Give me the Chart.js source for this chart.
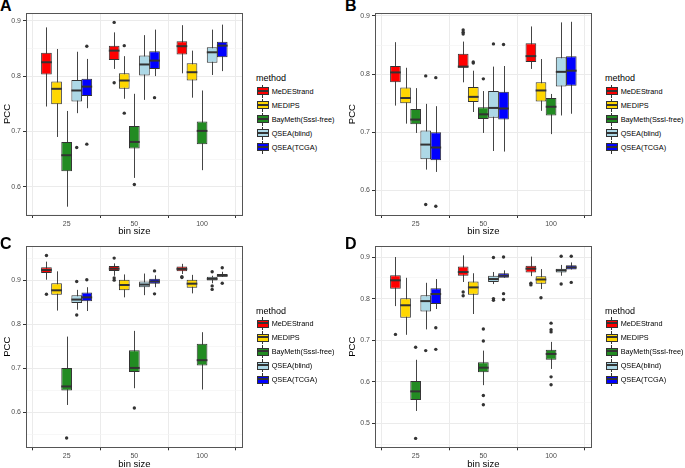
<!DOCTYPE html>
<html>
<head>
<meta charset="utf-8">
<script src="https://cdn.jsdelivr.net/npm/chart.js@4.4.0/dist/chart.umd.min.js"></script>
<style>
  body { margin: 0; background: #fff; width: 685px; height: 468px; position: relative; overflow: hidden;
         font-family: "Liberation Sans", Arial, sans-serif; }
  canvas { position: absolute; }
  .tag { position: absolute; font-weight: bold; font-size: 16px; line-height: 16px; color: #000; }
  .legend { position: absolute; width: 90px; height: 90px; }
  .legend .ttl { position: absolute; left: 0; top: 0; font-size: 9px; line-height: 10px; color: #000; }
  .legend .row { position: absolute; left: 0.7px; height: 13px; width: 90px; }
  .legend .lab { position: absolute; left: 15px; top: 0; font-size: 7.3px; line-height: 13px; color: #000; white-space: nowrap; }
  .key { position: absolute; left: 0; top: 0; width: 12px; height: 13px; }
  .key .wh { position: absolute; left: 5.5px; top: 0; width: 1px; height: 13px; background: #333; }
  .key .bx { position: absolute; left: 0; top: 2.5px; width: 10px; height: 6px; border: 1px solid #333; }
  .key .md { position: absolute; left: 0; top: 5px; width: 12px; height: 2px; background: #333; }
</style>
</head>
<body>
<script>
const bins = ['25', '50', '100'];
const methods = ['MeDEStrand', 'MEDIPS', 'BayMeth(SssI-free)', 'QSEA(blind)', 'QSEA(TCGA)'];
const methodColors = ['#FF0000', '#FFD700', '#228B22', '#ADD8E6', '#0000FF'];

// per bin: [lower whisker, Q1, median, Q3, upper whisker]
const A_MeDEStrand = [[0.745, 0.803, 0.825, 0.842, 0.888], [0.813, 0.829, 0.846, 0.855, 0.879], [0.805, 0.839, 0.854, 0.863, 0.892]];
const A_MEDIPS     = [[0.690, 0.749, 0.777, 0.790, 0.849], [0.759, 0.777, 0.792, 0.805, 0.836], [0.761, 0.792, 0.807, 0.823, 0.846]];
const A_BayMeth    = [[0.564, 0.628, 0.657, 0.681, 0.737], [0.616, 0.669, 0.681, 0.710, 0.768], [0.630, 0.677, 0.701, 0.718, 0.774]];
const A_QSEAblind  = [[0.733, 0.754, 0.774, 0.793, 0.844], [0.757, 0.801, 0.821, 0.837, 0.874], [0.802, 0.824, 0.843, 0.852, 0.884]];
const A_QSEAtcga   = [[0.742, 0.764, 0.781, 0.795, 0.831], [0.800, 0.813, 0.828, 0.845, 0.884], [0.809, 0.834, 0.855, 0.862, 0.893]];
const A_outliers   = [[[], [0.897, 0.788], []], [[], [0.855, 0.733], []], [[], [0.604], []], [[0.671], [], []], [[0.854, 0.677], [0.761], []]];

const B_MeDEStrand = [[0.746, 0.786, 0.803, 0.814, 0.855], [0.786, 0.811, 0.813, 0.835, 0.856], [0.809, 0.821, 0.831, 0.853, 0.882]];
const B_MEDIPS     = [[0.715, 0.750, 0.759, 0.777, 0.811], [0.735, 0.752, 0.761, 0.778, 0.806], [0.737, 0.753, 0.772, 0.786, 0.826]];
const B_BayMeth    = [[0.699, 0.714, 0.722, 0.740, 0.776], [0.699, 0.723, 0.731, 0.743, 0.771], [0.697, 0.729, 0.744, 0.759, 0.766]];
const B_QSEAblind  = [[0.636, 0.654, 0.679, 0.703, 0.749], [0.668, 0.725, 0.742, 0.771, 0.813], [0.729, 0.779, 0.804, 0.829, 0.889]];
const B_QSEAtcga   = [[0.632, 0.652, 0.674, 0.700, 0.745], [0.667, 0.722, 0.741, 0.770, 0.814], [0.732, 0.780, 0.806, 0.831, 0.890]];
const B_outliers   = [[[], [0.876, 0.872, 0.869], []], [[], [0.821, 0.819], []], [[], [0.792], []], [[0.797, 0.576], [0.852], []], [[0.794, 0.573], [0.851], []]];

const C_MeDEStrand = [[0.901, 0.916, 0.923, 0.929, 0.942], [0.910, 0.921, 0.926, 0.932, 0.938], [0.914, 0.920, 0.9255, 0.931, 0.937]];
const C_MEDIPS     = [[0.831, 0.867, 0.877, 0.893, 0.920], [0.861, 0.877, 0.889, 0.901, 0.913], [0.870, 0.883, 0.892, 0.901, 0.912]];
const C_BayMeth    = [[0.617, 0.650, 0.659, 0.701, 0.772], [0.655, 0.692, 0.701, 0.741, 0.785], [0.652, 0.7065, 0.7185, 0.756, 0.782]];
const C_QSEAblind  = [[0.833, 0.848, 0.856, 0.866, 0.878], [0.866, 0.884, 0.890, 0.897, 0.915], [0.893, 0.899, 0.903, 0.9075, 0.910]];
const C_QSEAtcga   = [[0.830, 0.852, 0.861, 0.872, 0.884], [0.884, 0.892, 0.897, 0.903, 0.911], [0.9075, 0.9075, 0.9105, 0.914, 0.919]];
const C_outliers   = [[[0.956, 0.868], [0.950, 0.905, 0.900], [0.908, 0.906]], [[], [], []], [[0.542], [0.610], []],
                      [[0.897, 0.821], [], [0.919, 0.887, 0.879]], [[0.901], [0.921, 0.869], [0.928, 0.893]]];

const D_MeDEStrand = [[0.782, 0.824, 0.844, 0.856, 0.900], [0.840, 0.855, 0.864, 0.877, 0.904], [0.854, 0.863, 0.872, 0.879, 0.901]];
const D_MEDIPS     = [[0.713, 0.754, 0.784, 0.801, 0.850], [0.763, 0.809, 0.827, 0.841, 0.861], [0.823, 0.836, 0.846, 0.854, 0.871]];
const D_BayMeth    = [[0.530, 0.556, 0.577, 0.602, 0.653], [0.592, 0.623, 0.634, 0.647, 0.675], [0.631, 0.653, 0.667, 0.677, 0.696]];
const D_QSEAblind  = [[0.726, 0.769, 0.794, 0.808, 0.838], [0.835, 0.840, 0.847, 0.855, 0.864], [0.855, 0.863, 0.868, 0.872, 0.881]];
const D_QSEAtcga   = [[0.775, 0.787, 0.811, 0.825, 0.847], [0.850, 0.850, 0.855, 0.861, 0.868], [0.870, 0.870, 0.875, 0.880, 0.887]];
const D_outliers   = [[[0.714], [0.816, 0.807], [0.837, 0.833]], [[], [], [0.802]],
                      [[0.683, 0.464], [0.727, 0.698, 0.567, 0.545], [0.741, 0.725, 0.720, 0.612, 0.593]],
                      [[0.675], [0.899, 0.800, 0.796], [0.902, 0.835]], [[0.730, 0.678], [0.900, 0.812, 0.798], [0.902, 0.839]]];

const yRangeA = [0.549, 0.914];
const yRangeB = [0.558, 0.9046];
const yRangeC = [0.521, 0.977];
const yRangeD = [0.4426, 0.926];

const FONT = '"Liberation Sans", Arial, sans-serif';
const dodge = 0.745;

const panels = [
  { tag: 'A', stats: [A_MeDEStrand, A_MEDIPS, A_BayMeth, A_QSEAblind, A_QSEAtcga], outliers: A_outliers, yRange: yRangeA,
    cx: 0, cy: 0, cw: 250, ch: 238, pl: 26, pt: 13, pr: 242.7, pb: 215, tagX: 0, tagY: -2, legX: 256, legY: 73 },
  { tag: 'B', stats: [B_MeDEStrand, B_MEDIPS, B_BayMeth, B_QSEAblind, B_QSEAtcga], outliers: B_outliers, yRange: yRangeB,
    cx: 345, cy: 0, cw: 255, ch: 238, pl: 375, pt: 13.3, pr: 591.7, pb: 215, tagX: 345, tagY: -2, legX: 605, legY: 73 },
  { tag: 'C', stats: [C_MeDEStrand, C_MEDIPS, C_BayMeth, C_QSEAblind, C_QSEAtcga], outliers: C_outliers, yRange: yRangeC,
    cx: 0, cy: 240, cw: 250, ch: 231, pl: 26, pt: 245, pr: 242.7, pb: 447.3, tagX: 0, tagY: 235.5, legX: 256, legY: 305.5 },
  { tag: 'D', stats: [D_MeDEStrand, D_MEDIPS, D_BayMeth, D_QSEAblind, D_QSEAtcga], outliers: D_outliers, yRange: yRangeD,
    cx: 345, cy: 240, cw: 255, ch: 231, pl: 375, pt: 245, pr: 591.7, pb: 447.3, tagX: 345, tagY: 235.5, legX: 605, legY: 305.5 }
];

const isMajor = v => Math.round(v * 20) % 2 === 0;

// whiskers behind boxes, medians and panel border on top
const boxPlugin = {
  id: 'boxplot',
  beforeDatasetsDraw(chart) {
    const ctx = chart.ctx, y = chart.scales.y;
    ctx.save();
    ctx.strokeStyle = '#444';
    ctx.lineWidth = 1;
    chart.data.datasets.forEach((ds, i) => {
      if (!ds.stats) return;
      chart.getDatasetMeta(i).data.forEach((el, j) => {
        const s = ds.stats[j];
        const x = Math.round(el.x) + 0.5;
        ctx.beginPath();
        ctx.moveTo(x, y.getPixelForValue(s[0]));
        ctx.lineTo(x, y.getPixelForValue(s[4]));
        ctx.stroke();
      });
    });
    ctx.restore();
  },
  afterDatasetsDraw(chart) {
    const ctx = chart.ctx, y = chart.scales.y, a = chart.chartArea;
    ctx.save();
    ctx.strokeStyle = '#333';
    ctx.lineWidth = 2;
    chart.data.datasets.forEach((ds, i) => {
      if (!ds.stats) return;
      chart.getDatasetMeta(i).data.forEach((el, j) => {
        const py = y.getPixelForValue(ds.stats[j][2]);
        ctx.beginPath();
        ctx.moveTo(el.x - el.width / 2, py);
        ctx.lineTo(el.x + el.width / 2, py);
        ctx.stroke();
      });
    });
    ctx.strokeStyle = '#555';
    ctx.lineWidth = 1;
    ctx.strokeRect(Math.round(a.left) + 0.5, Math.round(a.top) + 0.5, Math.round(a.right - a.left) - 1, Math.round(a.bottom - a.top));
    ctx.restore();
  }
};

function makeLegend(p) {
  const leg = document.createElement('div');
  leg.className = 'legend';
  leg.style.left = p.legX + 'px';
  leg.style.top = p.legY + 'px';
  let html = '<div class="ttl">method</div>';
  methods.forEach((m, i) => {
    html += `<div class="row" style="top:${11.5 + 14 * i}px"><div class="key"><div class="wh"></div>` +
            `<div class="bx" style="background:${methodColors[i]}"></div><div class="md"></div></div>` +
            `<div class="lab">${m}</div></div>`;
  });
  leg.innerHTML = html;
  document.body.appendChild(leg);
}

function makePanel(p) {
  const tag = document.createElement('div');
  tag.className = 'tag';
  tag.textContent = p.tag;
  tag.style.left = p.tagX + 'px';
  tag.style.top = p.tagY + 'px';
  document.body.appendChild(tag);

  const canvas = document.createElement('canvas');
  canvas.width = p.cw;
  canvas.height = p.ch;
  canvas.style.left = p.cx + 'px';
  canvas.style.top = p.cy + 'px';
  document.body.appendChild(canvas);

  const datasets = [];
  p.stats.forEach((rows, m) => {
    datasets.push({
      type: 'bar',
      label: methods[m],
      data: rows.map((s, b) => ({ x: b + 1, y: [s[1], s[3]] })),
      stats: rows,
      backgroundColor: methodColors[m],
      borderColor: '#333',
      borderWidth: 1,
      borderSkipped: false,
      categoryPercentage: dodge,
      barPercentage: 1.06
    });
  });
  p.outliers.forEach((perBin, m) => {
    const pts = [];
    perBin.forEach((vals, b) => vals.forEach(v => pts.push({ x: b + 1 + (m - 2) * dodge / methods.length, y: v })));
    datasets.push({ type: 'scatter', data: pts, pointRadius: 1.7, pointHoverRadius: 1.7, backgroundColor: '#333', borderWidth: 0 });
  });

  new Chart(canvas, {
    type: 'bar',
    data: { datasets },
    options: {
      responsive: false,
      animation: false,
      devicePixelRatio: 1,
      events: [],
      layout: { padding: { left: 0, top: p.pt - p.cy, right: p.cx + p.cw - p.pr, bottom: 0 } },
      plugins: { legend: { display: false }, tooltip: { enabled: false } },
      scales: {
        x: {
          type: 'linear', min: 0.4, max: 3.6, offset: false,
          afterBuildTicks: s => { s.ticks = bins.map((b, i) => ({ value: i + 1 })); },
          afterFit: s => { s.height = p.cy + p.ch - p.pb; },
          ticks: { callback: v => bins[Math.round(v) - 1], color: '#4d4d4d', font: { size: 7, family: FONT },
                   padding: 1.5, maxRotation: 0, autoSkip: false },
          grid: { color: '#ebebeb', lineWidth: 1, tickColor: '#333', tickLength: 3 },
          border: { display: false },
          title: { display: true, text: 'bin size', color: '#000', font: { size: 9.5, family: FONT }, padding: { top: 0, bottom: 1 } }
        },
        y: {
          type: 'linear', min: p.yRange[0], max: p.yRange[1],
          afterBuildTicks: s => {
            const t = [];
            for (let k = Math.ceil(p.yRange[0] * 20); k <= Math.floor(p.yRange[1] * 20); k++) t.push({ value: k / 20 });
            s.ticks = t;
          },
          afterFit: s => { s.width = p.pl - p.cx; },
          ticks: { callback: v => isMajor(v) ? v.toFixed(1) : '', color: '#4d4d4d', font: { size: 7, family: FONT }, padding: 2 },
          grid: {
            color: c => isMajor(c.tick.value) ? '#ebebeb' : '#f4f4f4',
            lineWidth: c => isMajor(c.tick.value) ? 1 : 0.7,
            tickColor: c => isMajor(c.tick.value) ? '#333' : 'rgba(0,0,0,0)',
            tickLength: 3
          },
          border: { display: false },
          title: { display: true, text: 'PCC', color: '#000', font: { size: 9.5, family: FONT }, padding: { top: 2, bottom: 0 } }
        }
      }
    },
    plugins: [boxPlugin]
  });

  makeLegend(p);
}

panels.forEach(makePanel);
</script>
</body>
</html>
